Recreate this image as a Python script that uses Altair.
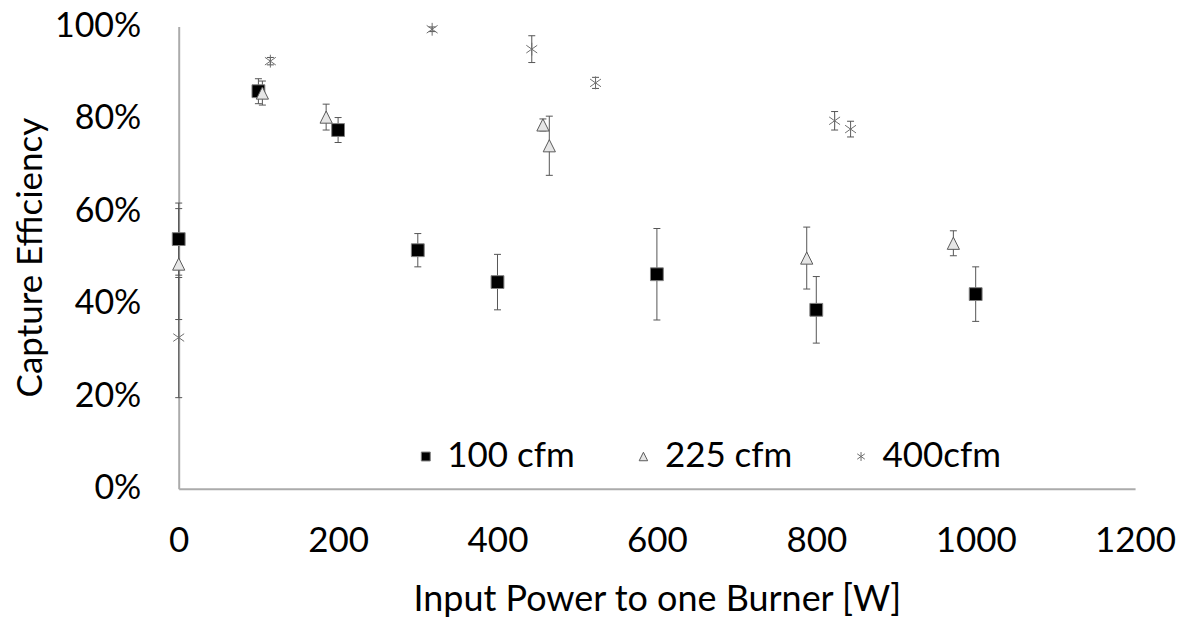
import altair as alt
import pandas as pd

# ---- data ----
series_names = ["100 cfm", "225 cfm", "400cfm"]

x_100 = [0, 100, 200, 300, 400, 600, 800, 1000]
y_100 = [54.0, 86.0, 77.6, 51.6, 44.7, 46.4, 38.7, 42.1]
e_100 = [7.8, 2.7, 2.7, 3.6, 6.0, 9.9, 7.2, 5.9]

x_225 = [0, 105, 185, 457, 465, 788, 972]
y_225 = [48.6, 85.6, 80.4, 78.7, 74.2, 49.9, 53.1]
e_225 = [12.0, 2.6, 2.8, 1.3, 6.4, 6.7, 2.7]

x_400 = [0, 115, 318, 443, 523, 823, 843]
y_400 = [32.7, 92.5, 99.4, 95.1, 87.8, 79.6, 77.8]
e_400 = [13.0, 0.8, 0.5, 2.9, 1.2, 2.0, 1.7]

x_ticks = [0, 200, 400, 600, 800, 1000, 1200]
y_ticks = [0, 0.2, 0.4, 0.6, 0.8, 1.0]

rows = []
for name, xs, ys, es in [
    (series_names[0], x_100, y_100, e_100),
    (series_names[1], x_225, y_225, e_225),
    (series_names[2], x_400, y_400, e_400),
]:
    for xv, yv, ev in zip(xs, ys, es):
        rows.append({"series": name, "x": xv, "y": yv / 100,
                     "lo": (yv - ev) / 100, "hi": (yv + ev) / 100})
df = pd.DataFrame(rows)

FONT = "Lato"
STAR = "M-0.85,-0.6L0.85,0.6M-0.85,0.6L0.85,-0.6M0,-1L0,1"
TRI = "M0,-0.95L0.95,0.95L-0.95,0.95Z"

xscale = alt.Scale(domain=[0, 1200], nice=False)
yscale = alt.Scale(domain=[0, 1], nice=False)

xenc = alt.X("x:Q", scale=xscale,
             axis=alt.Axis(values=x_ticks, format="d", labelFlush=False,
                           title="Input Power to one Burner [W]",
                           labelPadding=35, titlePadding=24))
yenc = alt.Y("y:Q", scale=yscale,
             axis=alt.Axis(values=y_ticks, format=".0%", labelFlush=False,
                           labelFontSize=34,
                           title="Capture Efficiency", titleFontSize=35,
                           labelPadding=38, titleX=-148, titleY=231,
                           titleAngle=-90, titleAlign="center",
                           titleBaseline="middle"))

base = alt.Chart(df)

rules = base.mark_rule(color="#555555", strokeWidth=1).encode(
    x=alt.X("x:Q", scale=xscale),
    y=alt.Y("lo:Q", scale=yscale),
    y2="hi:Q",
)
cap_lo = base.mark_tick(orient="horizontal", size=7, thickness=1,
                        color="#555555", opacity=1).encode(
    x=alt.X("x:Q", scale=xscale), y=alt.Y("lo:Q", scale=yscale))
cap_hi = base.mark_tick(orient="horizontal", size=7, thickness=1,
                        color="#555555", opacity=1).encode(
    x=alt.X("x:Q", scale=xscale), y=alt.Y("hi:Q", scale=yscale))

leg = alt.Legend(title=None, orient="none", legendX=230, legendY=413,
                 direction="horizontal", columns=3, labelFont=FONT,
                 labelFontSize=35, labelColor="black", symbolSize=80,
                 labelOffset=4, columnPadding=51, padding=0,
                 symbolStrokeWidth=1)

points = base.mark_point(opacity=1, strokeWidth=1, size=165).encode(
    x=xenc,
    y=yenc,
    shape=alt.Shape("series:N", scale=alt.Scale(domain=series_names,
                    range=["square", TRI, STAR]), legend=leg),
    fill=alt.Fill("series:N", scale=alt.Scale(domain=series_names,
                  range=["#000000", "#e6e6e6", "transparent"]), legend=leg),
    stroke=alt.Stroke("series:N", scale=alt.Scale(domain=series_names,
                      range=["#7f7f7f", "#5a5a5a", "#6e6e6e"]), legend=leg),
)

chart = alt.layer(rules, cap_lo, cap_hi, points).properties(
    width=958, height=463,
    autosize=alt.AutoSizeParams(type="none"),
    padding={"left": 171, "top": 18, "right": 44, "bottom": 131},
).configure_view(stroke=None).configure_axis(
    grid=False, ticks=False, domainColor="#ababab", domainWidth=2,
    labelFont=FONT, labelFontSize=35, labelColor="black",
    titleFont=FONT, titleFontSize=36, titleFontWeight="normal", titleColor="black",
)

chart.save("out.html", embed_options={"renderer": "svg", "actions": False})
